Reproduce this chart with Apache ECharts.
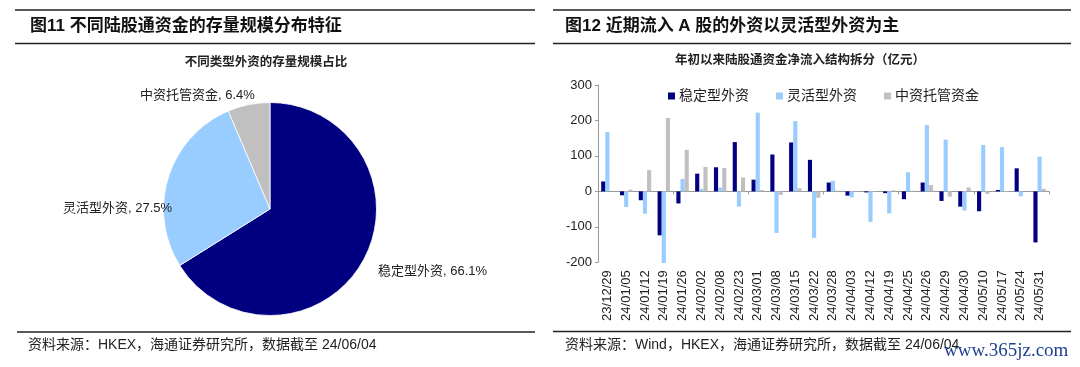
<!DOCTYPE html>
<html><head><meta charset="utf-8">
<script src="https://cdn.jsdelivr.net/npm/echarts@6/dist/echarts.min.js"></script>
<style>html,body{margin:0;padding:0;background:#fff}#c{width:1080px;height:367px}</style>
</head><body><div id="c"></div>
<script>
// ---- Data ----
const pieNames = ['稳定型外资', '灵活型外资', '中资托管资金'];
const pieValues = [66.1, 27.5, 6.4];

const dates = ['23/12/29','24/01/05','24/01/12','24/01/19','24/01/26','24/02/02','24/02/08','24/02/23',
  '24/03/01','24/03/08','24/03/15','24/03/22','24/03/28','24/04/03','24/04/12','24/04/19',
  '24/04/25','24/04/26','24/04/29','24/04/30','24/05/10','24/05/17','24/05/24','24/05/31'];
const seriesNames = ['稳定型外资', '灵活型外资', '中资托管资金'];
const stable   = [28, -11, -25, -124, -34, 50, 68, 139, 33, 104, 138, 89, 25, -12, -3, -5, -22, 25, -27, -43, -56, 4, 65, -144];
const flexible = [167, -44, -63, -202, 35, 7, 11, -43, 222, -117, 198, -131, 30, -17, -86, -62, 54, 187, 146, -54, 131, 125, -14, 98];
const custody  = [0, 5, 60, 207, 117, 69, 66, 39, 4, -10, 9, -18, 2, 1, 1, 3, 2, 18, -15, 11, -7, -2, 0, 7];

const yMin = -200, yMax = 300, yStep = 100;

const leftTitle = '图11 不同陆股通资金的存量规模分布特征';
const rightTitle = '图12 近期流入 A 股的外资以灵活型外资为主';
const leftSub = '不同类型外资的存量规模占比';
const rightSub = '年初以来陆股通资金净流入结构拆分（亿元）';
const leftSource = '资料来源：HKEX，海通证券研究所，数据截至 24/06/04';
const rightSource = '资料来源：Wind，HKEX，海通证券研究所，数据截至 24/06/04';
const watermark = 'www.365jz.com';

// ---- Styles ----
const colors = ['#000080', '#99ccff', '#c0c0c0'];
const FONT = '"Liberation Sans", Arial, "Noto Sans CJK SC", sans-serif';
const pieLabelPos = [
  {x: 378, y: 271},
  {x: 63, y: 208},
  {x: 140, y: 95}
];

const chart = echarts.init(document.getElementById('c'), null, {renderer: 'canvas'});

function hline(x1, x2, y) {
  return {type: 'line', shape: {x1: x1, y1: y, x2: x2, y2: y}, style: {stroke: '#222', lineWidth: 1.5}, silent: true};
}
function txt(x, y, text, font, opts) {
  return Object.assign({type: 'text', x: x, y: y, style: Object.assign({text: text, font: font, fill: '#222', textVerticalAlign: 'middle'}, opts || {})}, {silent: true});
}

const option = {
  animation: false,
  backgroundColor: '#fff',
  textStyle: {fontFamily: FONT},
  graphic: [
    hline(15, 535, 10), hline(15, 535, 43.5), hline(17, 535, 332),
    hline(553, 1071, 10), hline(553, 1071, 43.5), hline(553, 1071, 331.5),
    txt(30, 26, leftTitle, 'bold 17px ' + FONT, {fill: '#111'}),
    txt(565, 26, rightTitle, 'bold 17px ' + FONT, {fill: '#111'}),
    txt(266, 63, leftSub, '600 12.5px ' + FONT, {textAlign: 'center'}),
    txt(800, 61, rightSub, '600 12.5px ' + FONT, {textAlign: 'center'}),
    txt(28, 345, leftSource, '14px ' + FONT),
    txt(565, 345, rightSource, '14px ' + FONT),
    txt(944, 351, watermark, '19px "Liberation Serif", "DejaVu Serif", serif', {fill: '#1f3f8f'})
  ],
  legend: {
    data: seriesNames,
    left: 663, top: 84,
    itemWidth: 7, itemHeight: 7, itemGap: 27,
    icon: 'rect',
    textStyle: {fontSize: 14, color: '#222', fontFamily: FONT, padding: [0, 0, 0, -1]}
  },
  grid: {left: 598, top: 85, width: 451, height: 177.3, containLabel: false},
  xAxis: [
    {
      type: 'category', data: dates, gridIndex: 0, position: 'bottom',
      axisLine: {show: false, onZero: false}, axisTick: {show: false},
      axisLabel: {rotate: 90, interval: 0, margin: 8, fontSize: 13, color: '#222', fontFamily: FONT}
    },
    {
      type: 'category', data: dates, gridIndex: 0, position: 'bottom',
      axisLine: {show: true, onZero: true, lineStyle: {color: '#999', width: 1}},
      axisTick: {show: true, length: 3, lineStyle: {color: '#999'}},
      axisLabel: {show: false}
    }
  ],
  yAxis: {
    type: 'value', min: yMin, max: yMax, interval: yStep,
    axisLine: {show: true, lineStyle: {color: '#999'}},
    axisTick: {show: true, length: 3, lineStyle: {color: '#999'}},
    splitLine: {show: false},
    axisLabel: {fontSize: 13, color: '#222', margin: 6, fontFamily: FONT}
  },
  series: [
    {
      type: 'pie', center: [270, 209], radius: 106.5, startAngle: 90, clockwise: true,
      data: pieNames.map((n, i) => ({name: n, value: pieValues[i], itemStyle: {color: colors[i]}})),
      itemStyle: {borderColor: '#fff', borderWidth: 0.8},
      label: {
        show: true, formatter: p => p.name + ', ' + p.value.toFixed(1) + '%',
        fontSize: 13, color: '#222', fontFamily: FONT
      },
      labelLine: {show: false},
      labelLayout: p => Object.assign({align: 'left', verticalAlign: 'middle', moveOverlap: false}, pieLabelPos[p.dataIndex]),
      silent: true
    },
    {type: 'bar', name: seriesNames[0], data: stable, itemStyle: {color: colors[0]}, barGap: '0%', barCategoryGap: '34%', clip: false},
    {type: 'bar', name: seriesNames[1], data: flexible, itemStyle: {color: colors[1]}, barGap: '0%', barCategoryGap: '34%', clip: false},
    {type: 'bar', name: seriesNames[2], data: custody, itemStyle: {color: colors[2]}, barGap: '0%', barCategoryGap: '34%', clip: false}
  ]
};
chart.setOption(option);
</script>
</body></html>
